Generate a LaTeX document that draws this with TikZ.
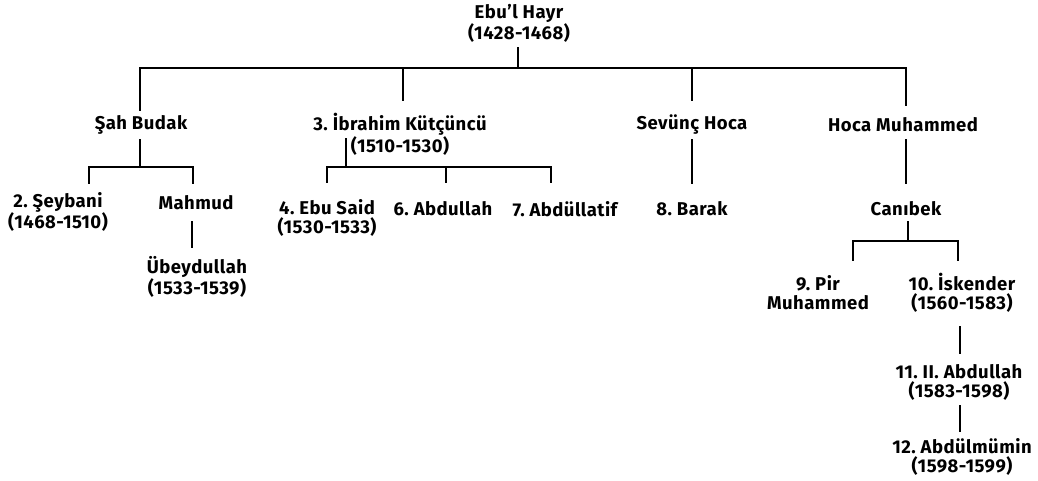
\documentclass[tikz,border=0pt]{standalone}
\usepackage{fontspec}
\setmainfont[LetterSpace=2.5]{Fira Sans}
\frenchspacing
\begin{document}
\begin{tikzpicture}[x=1pt,y=-1pt,
  lbl/.style={font=\bfseries\fontsize{18.5}{19}\selectfont, inner sep=0pt, align=center},
  ln/.style={line width=2pt, line cap=rect}]
\useasboundingbox (0,0) rectangle (1038,480);
% nodes
\node[lbl] (root) at (519,23) {Ebu'l Hayr\\(1428-1468)};
\node[lbl] (sah) at (141,125) {Şah Budak};
\node[lbl] (ibr) at (400,134) {3. İbrahim Kütçüncü\\(1510-1530)};
\node[lbl] (sev) at (692,125) {Sevünç Hoca};
\node[lbl] (hoca) at (903,125) {Hoca Muhammed};
\node[lbl] (sey) at (58,212) {2. Şeybani\\(1468-1510)};
\node[lbl] (mah) at (196,203) {Mahmud};
\node[lbl] (ube) at (197,277) {Übeydullah\\(1533-1539)};
\node[lbl] (ebu) at (327,218) {4. Ebu Said\\(1530-1533)};
\node[lbl] (abd) at (443,209) {6. Abdullah};
\node[lbl] (lat) at (565,209) {7. Abdüllatif};
\node[lbl] (bar) at (692,209) {8. Barak};
\node[lbl] (can) at (906,209) {Canıbek};
\node[lbl] (pir) at (818,293) {9. Pir\\Muhammed};
\node[lbl] (isk) at (962,293) {10. İskender\\(1560-1583)};
\node[lbl] (ab2) at (959,382) {11. II. Abdullah\\(1583-1598)};
\node[lbl] (mum) at (962,457) {12. Abdülmümin\\(1598-1599)};
% junction coordinates
\coordinate (j0) at (518,68);
\coordinate (j1) at (140,167);
\coordinate (j2) at (346,167);
\coordinate (j3) at (908,241);
% root
\draw[ln] (j0 |- 0,48) -- (j0);
\draw[ln] (140,110) |- (906,68) -- (906,105);
\draw[ln] (403,68) -- (403,100);
\draw[ln] (692,68) -- (692,100);
% Sah Budak
\draw[ln] (j1 |- 0,140) -- (j1);
\draw[ln] (89,183) |- (193,167) -- (193,183);
\draw[ln] (192,222) -- (192,247);
% Ibrahim
\draw[ln] (j2 |- 0,139) -- (j2);
\draw[ln] (327,182) |- (551,167) -- (551,182);
\draw[ln] (446,167) -- (446,182);
% Sevunc
\draw[ln] (692,140) -- (692,183);
% Hoca
\draw[ln] (906,140) -- (906,183);
% Canibek
\draw[ln] (j3 |- 0,222) -- (j3);
\draw[ln] (853,260) |- (958,241) -- (958,260);
\draw[ln] (960,327) -- (960,353);
\draw[ln] (960,406) -- (960,431);
\end{tikzpicture}
\end{document}
